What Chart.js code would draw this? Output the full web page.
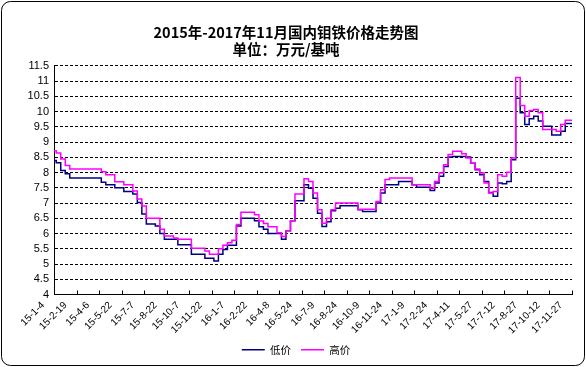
<!DOCTYPE html>
<html><head><meta charset="utf-8">
<script src="https://cdn.jsdelivr.net/npm/chart.js@4/dist/chart.umd.min.js"></script>
<style>html,body{margin:0;padding:0;background:#fff}#wrap{width:586px;height:367px;position:relative}</style>
</head><body><div id="wrap"><canvas id="c" width="586" height="367"></canvas></div>
<script>
const titleLines = ['2015年-2017年11月国内钼铁价格走势图', '单位：万元/基吨'];
const seriesNames = ['低价', '高价'];
const tickLabels = ['15-1-4','15-2-19','15-4-6','15-5-22','15-7-7','15-8-22','15-10-7','15-11-22',
  '16-1-7','16-2-22','16-4-8','16-5-24','16-7-9','16-8-24','16-10-9','16-11-24',
  '17-1-9','17-2-24','17-4-11','17-5-27','17-7-12','17-8-27','17-10-12','17-11-27'];
const pointsPerLabel = 5;
const lowPrices = [
  8.40,8.32,8.07,7.96,7.82,7.82,7.82,7.82,7.82,7.82,
  7.82,7.68,7.60,7.60,7.50,7.50,7.38,7.38,7.30,7.02,
  6.64,6.31,6.31,6.25,6.00,5.81,5.81,5.81,5.63,5.63,
  5.63,5.32,5.32,5.32,5.19,5.19,5.10,5.32,5.48,5.62,
  5.62,6.25,6.50,6.50,6.50,6.42,6.22,6.14,6.00,6.00,
  6.00,5.81,6.09,6.42,7.08,7.08,7.60,7.49,7.16,6.67,
  6.23,6.39,6.75,6.83,6.91,6.91,6.91,6.91,6.78,6.72,
  6.72,6.72,7.00,7.33,7.60,7.60,7.60,7.71,7.71,7.71,
  7.60,7.52,7.52,7.52,7.41,7.66,7.88,8.20,8.51,8.53,
  8.53,8.53,8.51,8.31,8.09,7.93,7.71,7.35,7.22,7.66,
  7.63,7.71,8.42,10.44,9.96,9.58,9.77,9.85,9.69,9.52,
  9.52,9.23,9.23,9.36,9.61,9.61];
const highPrices = [
  8.72,8.64,8.45,8.23,8.12,8.12,8.12,8.12,8.12,8.12,
  8.12,8.03,7.93,7.93,7.70,7.70,7.60,7.60,7.40,7.13,
  6.90,6.50,6.50,6.50,6.14,5.92,5.92,5.85,5.81,5.81,
  5.81,5.52,5.52,5.52,5.43,5.32,5.32,5.50,5.62,5.70,
  5.78,6.30,6.70,6.70,6.70,6.62,6.41,6.33,6.22,6.22,
  6.03,5.90,6.09,6.42,7.30,7.30,7.80,7.71,7.33,6.78,
  6.34,6.50,6.78,7.00,7.00,7.00,7.00,7.00,6.80,6.80,
  6.80,6.80,7.05,7.44,7.77,7.82,7.82,7.82,7.82,7.82,
  7.60,7.60,7.60,7.60,7.49,7.71,7.99,8.26,8.59,8.70,
  8.70,8.62,8.48,8.31,8.12,7.99,7.66,7.33,7.38,7.93,
  7.88,8.01,8.48,11.12,10.20,9.85,10.04,10.07,9.96,9.41,
  9.41,9.41,9.36,9.58,9.72,9.72];
const yMin = 4, yMax = 11.5, yStep = 0.5;

const toPoints = arr => arr.map((v, i) => ({x: i, y: v}));
const lastIndex = lowPrices.length - 1;

const framePlugin = {
  id: 'frame',
  afterLayout(chart) {
    const lg = chart.legend;
    if (lg) { lg.left += 10; lg.right += 10; }
  },
  beforeDraw(chart) {
    const c = chart.ctx;
    c.save(); c.fillStyle = '#fff'; c.fillRect(0, 0, chart.width, chart.height); c.restore();
  },
  afterDraw(chart) {
    const c = chart.ctx, xs = chart.scales.x, a = chart.chartArea;
    c.save();
    c.strokeStyle = '#000'; c.lineWidth = 1;
    c.beginPath();
    xs.ticks.forEach((t, i) => {
      const px = Math.round(xs.getPixelForTick(i)) + 0.5;
      c.moveTo(px, a.bottom); c.lineTo(px, a.bottom - 4);
    });
    c.stroke();
    c.beginPath();
    c.roundRect(1.5, 1.5, chart.width - 3, chart.height - 3, 9);
    c.stroke();
    c.restore();
  }
};

new Chart(document.getElementById('c'), {
  type: 'line',
  data: {
    datasets: [
      {label: seriesNames[0], data: toPoints(lowPrices), borderColor: '#000080', backgroundColor: '#000080',
       borderWidth: 1.5, pointRadius: 0, stepped: 'middle', order: 1},
      {label: seriesNames[1], data: toPoints(highPrices), borderColor: '#FF00FF', backgroundColor: '#FF00FF',
       borderWidth: 1.5, pointRadius: 0, stepped: 'middle', order: 0}
    ]
  },
  options: {
    responsive: false, animation: false, devicePixelRatio: 1,
    layout: {padding: {left: 0, right: 14, top: 0, bottom: 2}},
    plugins: {
      tooltip: {enabled: false},
      title: {display: true, text: titleLines, color: '#000',
        font: {family: '"Noto Sans CJK SC"', size: 14.5, weight: 'bold', lineHeight: 1.17},
        padding: {top: 24, bottom: 8}},
      legend: {position: 'bottom',
        labels: {sort: (a, b) => a.datasetIndex - b.datasetIndex,
          usePointStyle: true, pointStyle: 'line', pointStyleWidth: 23, boxHeight: 10, padding: 10,
          color: '#000', font: {family: '"Noto Sans CJK SC"', size: 10.5}}}
    },
    scales: {
      x: {type: 'linear', min: 0, max: lastIndex,
        afterFit: s => { s.height = 40; },
        grid: {display: true, drawOnChartArea: false, drawTicks: false},
        border: {display: true, color: '#000', width: 1},
        ticks: {stepSize: pointsPerLabel, autoSkip: false, maxRotation: 45, minRotation: 45,
          labelOffset: -11, padding: 5, color: '#000',
          font: {family: '"Liberation Sans"', size: 10},
          callback: v => tickLabels[Math.round(v / pointsPerLabel)]}},
      y: {min: yMin, max: yMax,
        afterFit: s => { s.width = 54; },
        grid: {color: '#000', lineWidth: 1, drawTicks: false},
        border: {display: true, color: '#000', width: 1, dash: [3, 2]},
        ticks: {stepSize: yStep, autoSkip: false, padding: 5, color: '#000',
          font: {family: '"Liberation Sans"', size: 11},
          callback: v => String(v)}}
    }
  },
  plugins: [framePlugin]
});
</script></body></html>
